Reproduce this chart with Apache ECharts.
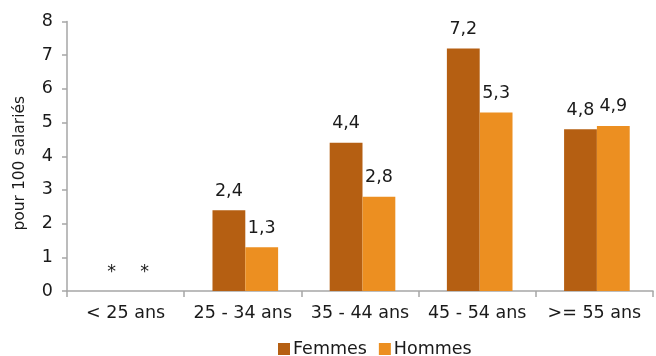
<!DOCTYPE html>
<html>
<head>
<meta charset="utf-8">
<script src="https://cdn.jsdelivr.net/npm/echarts@6/dist/echarts.min.js"></script>
<style>
  html, body { margin: 0; padding: 0; background: #ffffff; }
  #chart { width: 656px; height: 356px; }
</style>
</head>
<body>
<div id="chart"></div>
<script>
// Age groups and rates per 100 employees (null = not significant, shown as "*")
const categories = ['< 25 ans', '25 - 34 ans', '35 - 44 ans', '45 - 54 ans', '>= 55 ans'];
const femmes = [null, 2.4, 4.4, 7.2, 4.8];
const hommes = [null, 1.3, 2.8, 5.3, 4.9];
const yTicks = [0, 1, 2, 3, 4, 5, 6, 7, 8];

const FONT = 'DejaVu Sans, Verdana, sans-serif';
const TEXT = '#1a1a1a';
const AXIS = '#a6a6a6';
const FS = 17.5;

function toData(arr) {
  return arr.map(v => (v === null ? { value: 0, missing: true } : { value: v }));
}
function fmt(p) {
  if (p.data && p.data.missing) return '*';
  return String(p.value).replace('.', ',');
}

const yMin = yTicks[0];
const yMax = yTicks[yTicks.length - 1];

const chart = echarts.init(document.getElementById('chart'), null, { renderer: 'canvas' });
chart.setOption({
  animation: false,
  textStyle: { fontFamily: FONT },
  // grid 0 carries the visible axes, grid 1 the bar pairs (nudged slightly right)
  grid: [
    { left: 67, right: 3, top: 21.5, bottom: 65, containLabel: false },
    { left: 69.5, right: 0.5, top: 21.5, bottom: 65, containLabel: false }
  ],
  legend: {
    top: 340,
    left: 278,
    padding: 0,
    itemWidth: 12,
    itemHeight: 12,
    itemGap: 12,
    icon: 'rect',
    textStyle: { fontFamily: FONT, fontSize: FS, color: TEXT, padding: [0, 0, 0, -2] },
    data: ['Femmes', 'Hommes']
  },
  xAxis: [
    {
      type: 'category',
      gridIndex: 0,
      data: categories,
      boundaryGap: true,
      axisLine: { lineStyle: { color: AXIS, width: 1.5 } },
      axisTick: { show: true, length: 6, lineStyle: { color: AXIS, width: 1.5 } },
      axisLabel: { interval: 0, fontFamily: FONT, fontSize: FS, color: TEXT, margin: 13 }
    },
    {
      type: 'category',
      gridIndex: 1,
      data: categories,
      boundaryGap: true,
      show: false
    }
  ],
  yAxis: [
    {
      type: 'value',
      gridIndex: 0,
      min: yMin,
      max: yMax,
      interval: 1,
      name: 'pour 100 salariés',
      nameLocation: 'middle',
      nameRotate: 90,
      nameGap: 39,
      nameTextStyle: { fontFamily: FONT, fontSize: 15.5, color: TEXT, padding: [0, 14, 0, 0] },
      splitLine: { show: false },
      axisLine: { show: true, lineStyle: { color: AXIS, width: 1.5 } },
      axisTick: { show: true, length: 5, lineStyle: { color: AXIS, width: 1.5 } },
      axisLabel: { fontFamily: FONT, fontSize: FS, color: TEXT, margin: 14 }
    },
    {
      type: 'value',
      gridIndex: 1,
      min: yMin,
      max: yMax,
      interval: 1,
      show: false,
      splitLine: { show: false }
    }
  ],
  series: [
    {
      name: 'Femmes',
      type: 'bar',
      xAxisIndex: 1,
      yAxisIndex: 1,
      data: toData(femmes),
      barGap: '0%',
      barCategoryGap: '44%',
      itemStyle: { color: '#B55F12' },
      label: {
        show: true, position: 'top', distance: 10,
        fontFamily: FONT, fontSize: FS, color: TEXT, formatter: fmt
      }
    },
    {
      name: 'Hommes',
      type: 'bar',
      xAxisIndex: 1,
      yAxisIndex: 1,
      data: toData(hommes),
      itemStyle: { color: '#EC8F21' },
      label: {
        show: true, position: 'top', distance: 10,
        fontFamily: FONT, fontSize: FS, color: TEXT, formatter: fmt
      }
    }
  ]
});
</script>
</body>
</html>
